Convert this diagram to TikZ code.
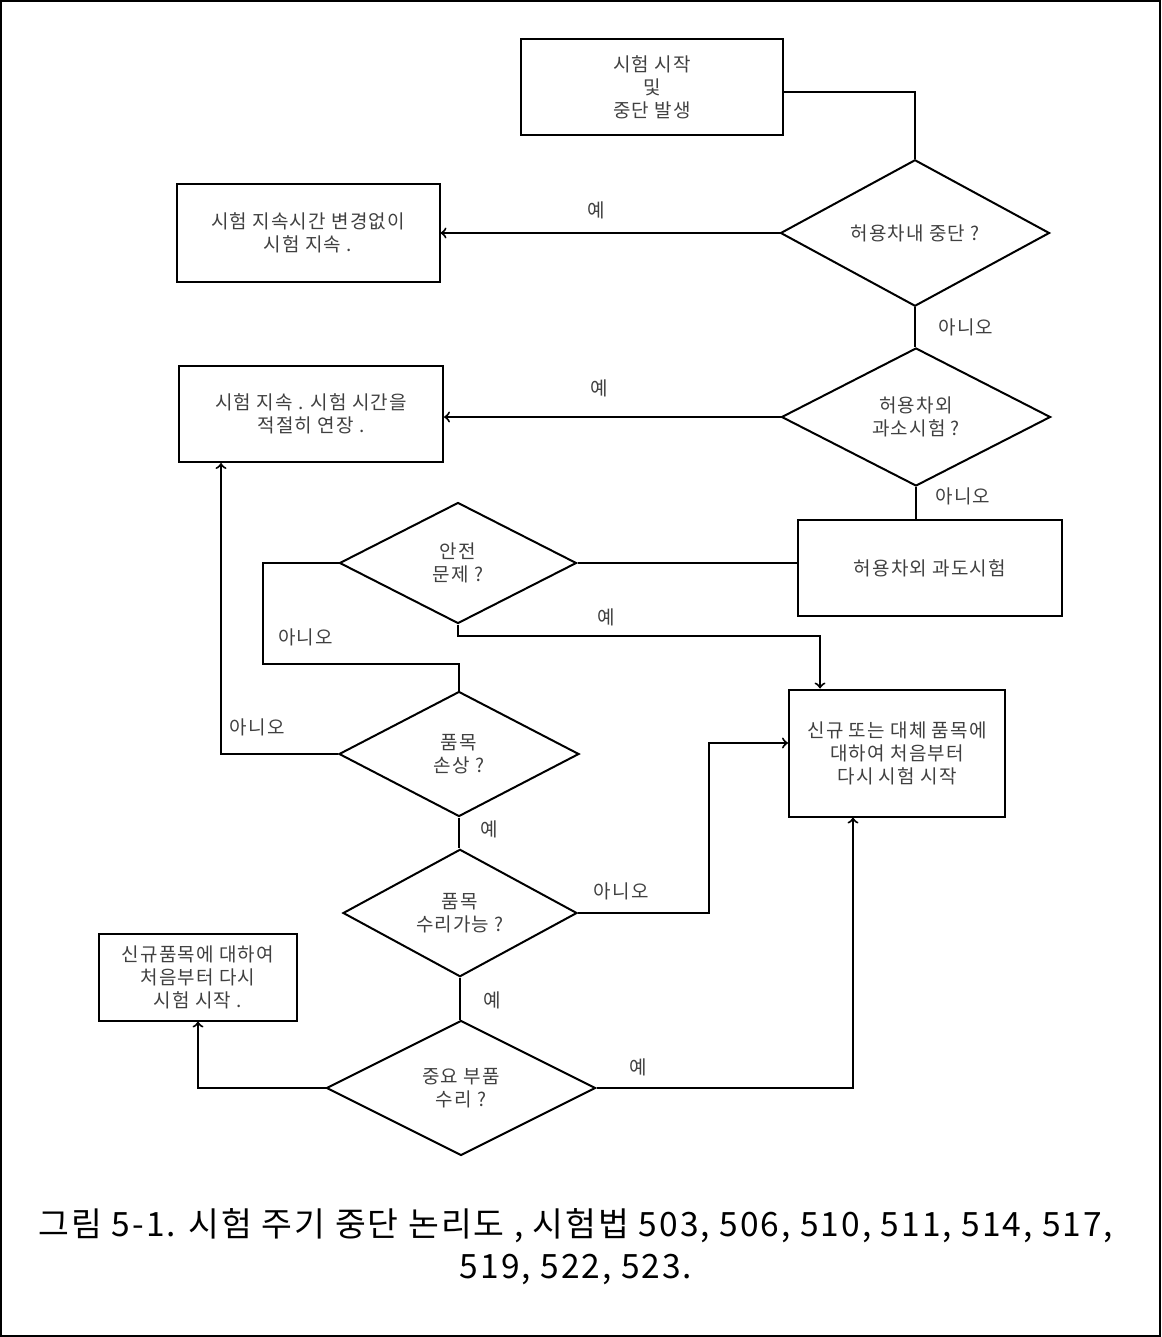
\documentclass[tikz,border=0pt]{standalone}
\usepackage{fontspec}
\setmainfont[LetterSpace=6]{Noto Sans CJK KR}
\usepackage{tikz}
\usetikzlibrary{shapes.geometric,positioning,arrows}

\begin{document}
\begin{tikzpicture}[x=0.5pt,y=-0.5pt,line width=1pt,font=\fontsize{9.5}{11.5}\selectfont]
        \tikzstyle{box}=[draw,rectangle,align=center,text=black!75,inner sep=0pt]
        \tikzstyle{ask}=[draw,diamond,align=center,text=black!75,inner sep=0pt]
        \useasboundingbox (0,0) rectangle (1161,1337);
        \draw (1,1) rectangle (1160,1336);
        % boxes
        \node[box,minimum width=131pt,minimum height=48pt] (Beg) at (652,87) {시험 시작\\및\\중단 발생};
        \node[box,minimum width=131.5pt,minimum height=48.5pt] (Keep) at (308,233) {시험 지속시간 변경없이\\시험 지속 .};
        \node[box,minimum width=132pt,minimum height=48pt] (Ext) at (311,414) {시험 지속 . 시험 시간을\\적절히 연장 .};
        \node[box,minimum width=132pt,minimum height=48pt] (Over) at (930,568) {허용차외 과도시험};
        \node[box,minimum width=108pt,minimum height=63.5pt] (Anew) at (897,753) {신규 또는 대체 품목에\\대하여 처음부터\\다시 시험 시작};
        \node[box,minimum width=99pt,minimum height=43.5pt] (New) at (198,977) {신규품목에 대하여\\처음부터 다시\\시험 시작 .};
        % decisions
        \node[ask,minimum width=134.5pt,minimum height=69pt] (Tol) at (915,233) {허용차내 중단 ?};
        \node[ask,minimum width=134.5pt,minimum height=69pt] (Under) at (916,417) {허용차외\\과소시험 ?};
        \node[ask,minimum width=118.5pt,minimum height=60.5pt] (Safe) at (458,563) {안전\\문제 ?};
        \node[ask,minimum width=120pt,minimum height=62.5pt] (Dmg) at (459,754) {품목\\손상 ?};
        \node[ask,minimum width=117pt,minimum height=58.5pt] (Fix) at (460,913) {품목\\수리가능 ?};
        \node[ask,minimum width=134.5pt,minimum height=67.5pt] (Crit) at (461,1088) {중요 부품\\수리 ?};
        % caption
        \node[align=center,font=\fontsize{16.75}{21}\selectfont] (Cap) at (576,1247)
            {그림 5-1. 시험 주기 중단 논리도 , 시험법 503, 506, 510, 511, 514, 517,\\519, 522, 523.};

        \tikzstyle{every node}=[text=black!75]
        \draw (Beg.east) ++(0,5) -| (Tol.north);
        \path[->]
        (Tol) edge node[pos=0.54,above=3pt] {예} (Keep)
        (Under.west) edge node[pos=0.54,above=6pt] {예} (Under.west -| Ext.east);
        \draw (Tol.south) -- node[right=8pt] {아니오} (Tol.south |- Under.north);
        \draw (Under.south) -- node[pos=0.3,right=6pt] {아니오} (Under.south |- Over.north);
        \draw (Over.west |- Safe.east) -- (Safe.east);
        \draw[->] (Safe.south) -- ++(0,11) -| node[pos=0.205,above=1pt] {예} ([xshift=-38.5pt]Anew.north);
        \draw (Safe.west) -- ++(-76,0) |- node[pos=0.61,above=5pt] {아니오} ([yshift=13.5pt]Dmg.north) -- (Dmg.north);
        \draw[->] (Dmg.west) -| node[pos=0.345,above=5pt] {아니오} ([xshift=21.5pt]Ext.south west);
        \draw (Dmg.south) -- node[pos=0.4,right=7pt] {예} (Dmg.south |- Fix.north);
        \draw[->] (Fix.east) -- node[pos=0.33,above=2.5pt] {아니오} ++(131,0) |- ([yshift=5pt]Anew.west);
        \draw (Fix.south) -- node[pos=0.55,right=8pt] {예} (Fix.south |- Crit.north);
        \draw[->] (Crit.west) -| (New.south);
        \draw[->] (Crit.east) -| node[pos=0.082,above=2pt] {예} ([xshift=-22pt]Anew.south);
    \end{tikzpicture}
\end{document}
